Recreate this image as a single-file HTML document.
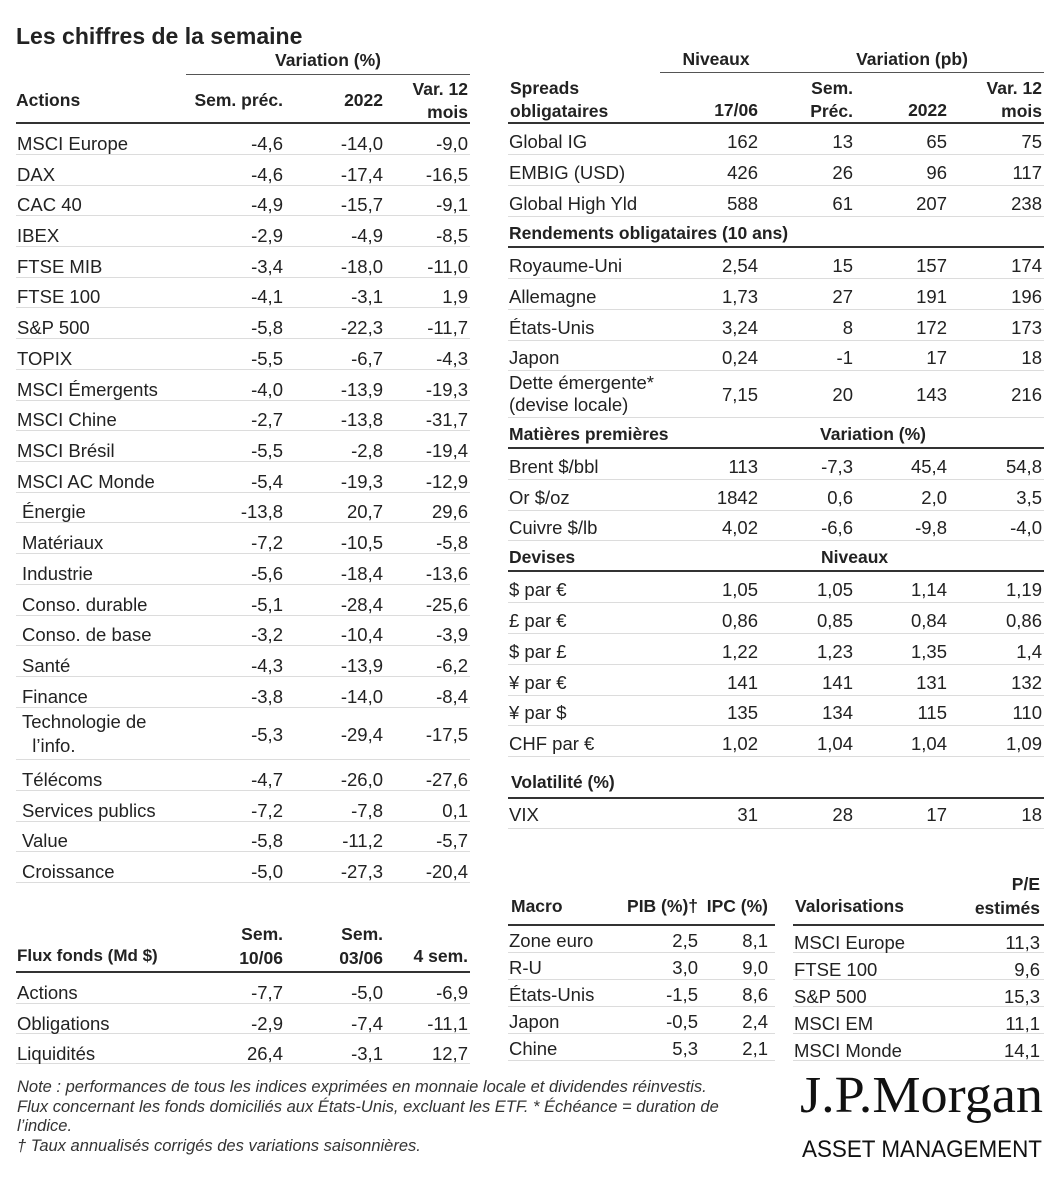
<!DOCTYPE html>
<html><head><meta charset="utf-8"><style>
*{margin:0;padding:0;box-sizing:border-box}
body{width:1064px;height:1200px;background:#fff;position:relative;overflow:hidden;font-family:"Liberation Sans",sans-serif;color:#222;font-size:18.5px}
.a{position:absolute;white-space:nowrap}
.r{position:absolute;height:31px;border-bottom:1px solid #dcdcdc}
.r span{position:absolute;top:5px;line-height:26px}
.L span{top:7px}
.L{left:16px;width:454px}
.R{left:508px;width:536px}
.n{left:1px}
.s{left:6px}
.L .c1{right:187px}.L .c2{right:87px}.L .c3{right:2px}
.R .c1{right:286px}.R .c2{right:191px}.R .c3{right:97px}.R .c4{right:2px}
.b{font-weight:bold}
.hd{font-weight:bold;font-size:17.5px}
.th{border-bottom:2px solid #333}
.M{left:508px;width:267px;height:27px}
.M span{top:3px;line-height:24px}
.M .c1{right:77px}.M .c2{right:7px}
.V{left:793px;width:251px;height:27px}
.V span{top:5px;line-height:24px}
.V .c1{right:4px}
.note{font-style:italic;font-size:16.5px;color:#333}
</style></head><body>
<div class="a b" style="left:16px;top:23px;font-size:23px">Les chiffres de la semaine</div>

<div class="a hd" style="left:186px;width:284px;top:50px;text-align:center">Variation (%)</div>
<div class="a" style="left:186px;top:74px;width:284px;border-top:1.5px solid #555"></div>
<div class="a hd" style="left:16px;top:90px">Actions</div>
<div class="a hd" style="right:781px;top:90px">Sem. préc.</div>
<div class="a hd" style="right:681px;top:90px">2022</div>
<div class="a hd" style="right:596px;top:78px;text-align:right;line-height:23px">Var. 12<br>mois</div>
<div class="a" style="left:16px;top:122px;width:454px;border-top:2px solid #333"></div>

<div class="r L" style="top:124px"><span class="n">MSCI Europe</span><span class="c1">-4,6</span><span class="c2">-14,0</span><span class="c3">-9,0</span></div>
<div class="r L" style="top:155px"><span class="n">DAX</span><span class="c1">-4,6</span><span class="c2">-17,4</span><span class="c3">-16,5</span></div>
<div class="r L" style="top:185px"><span class="n">CAC 40</span><span class="c1">-4,9</span><span class="c2">-15,7</span><span class="c3">-9,1</span></div>
<div class="r L" style="top:216px"><span class="n">IBEX</span><span class="c1">-2,9</span><span class="c2">-4,9</span><span class="c3">-8,5</span></div>
<div class="r L" style="top:247px"><span class="n">FTSE MIB</span><span class="c1">-3,4</span><span class="c2">-18,0</span><span class="c3">-11,0</span></div>
<div class="r L" style="top:277px"><span class="n">FTSE 100</span><span class="c1">-4,1</span><span class="c2">-3,1</span><span class="c3">1,9</span></div>
<div class="r L" style="top:308px"><span class="n">S&amp;P 500</span><span class="c1">-5,8</span><span class="c2">-22,3</span><span class="c3">-11,7</span></div>
<div class="r L" style="top:339px"><span class="n">TOPIX</span><span class="c1">-5,5</span><span class="c2">-6,7</span><span class="c3">-4,3</span></div>
<div class="r L" style="top:370px"><span class="n">MSCI Émergents</span><span class="c1">-4,0</span><span class="c2">-13,9</span><span class="c3">-19,3</span></div>
<div class="r L" style="top:400px"><span class="n">MSCI Chine</span><span class="c1">-2,7</span><span class="c2">-13,8</span><span class="c3">-31,7</span></div>
<div class="r L" style="top:431px"><span class="n">MSCI Brésil</span><span class="c1">-5,5</span><span class="c2">-2,8</span><span class="c3">-19,4</span></div>
<div class="r L" style="top:462px"><span class="n">MSCI AC Monde</span><span class="c1">-5,4</span><span class="c2">-19,3</span><span class="c3">-12,9</span></div>
<div class="r L" style="top:492px"><span class="s">Énergie</span><span class="c1">-13,8</span><span class="c2">20,7</span><span class="c3">29,6</span></div>
<div class="r L" style="top:523px"><span class="s">Matériaux</span><span class="c1">-7,2</span><span class="c2">-10,5</span><span class="c3">-5,8</span></div>
<div class="r L" style="top:554px"><span class="s">Industrie</span><span class="c1">-5,6</span><span class="c2">-18,4</span><span class="c3">-13,6</span></div>
<div class="r L" style="top:585px"><span class="s">Conso. durable</span><span class="c1">-5,1</span><span class="c2">-28,4</span><span class="c3">-25,6</span></div>
<div class="r L" style="top:615px"><span class="s">Conso. de base</span><span class="c1">-3,2</span><span class="c2">-10,4</span><span class="c3">-3,9</span></div>
<div class="r L" style="top:646px"><span class="s">Santé</span><span class="c1">-4,3</span><span class="c2">-13,9</span><span class="c3">-6,2</span></div>
<div class="r L" style="top:677px"><span class="s">Finance</span><span class="c1">-3,8</span><span class="c2">-14,0</span><span class="c3">-8,4</span></div>
<div class="r L" style="top:707px;height:53px"><span class="s" style="top:3px;line-height:24px">Technologie de<br>&nbsp;&nbsp;l’info.</span><span class="c1" style="top:15px">-5,3</span><span class="c2" style="top:15px">-29,4</span><span class="c3" style="top:15px">-17,5</span></div>
<div class="r L" style="top:760px"><span class="s">Télécoms</span><span class="c1">-4,7</span><span class="c2">-26,0</span><span class="c3">-27,6</span></div>
<div class="r L" style="top:791px"><span class="s">Services publics</span><span class="c1">-7,2</span><span class="c2">-7,8</span><span class="c3">0,1</span></div>
<div class="r L" style="top:821px"><span class="s">Value</span><span class="c1">-5,8</span><span class="c2">-11,2</span><span class="c3">-5,7</span></div>
<div class="r L" style="top:852px"><span class="s">Croissance</span><span class="c1">-5,0</span><span class="c2">-27,3</span><span class="c3">-20,4</span></div>

<div class="a hd" style="left:672px;width:88px;top:49px;text-align:center">Niveaux</div>
<div class="a hd" style="left:780px;width:264px;top:49px;text-align:center">Variation (pb)</div>
<div class="a" style="left:660px;top:72px;width:384px;border-top:1.5px solid #555"></div>
<div class="a hd" style="left:510px;top:77px;line-height:23px">Spreads<br>obligataires</div>
<div class="a hd" style="right:306px;top:100px">17/06</div>
<div class="a hd" style="right:211px;top:77px;line-height:23px;text-align:right">Sem.<br>Préc.</div>
<div class="a hd" style="right:117px;top:100px">2022</div>
<div class="a hd" style="right:22px;top:77px;line-height:23px;text-align:right">Var. 12<br>mois</div>
<div class="a" style="left:508px;top:122px;width:536px;border-top:2px solid #333"></div>

<div class="r R" style="top:124px"><span class="n">Global IG</span><span class="c1">162</span><span class="c2">13</span><span class="c3">65</span><span class="c4">75</span></div>
<div class="r R" style="top:155px"><span class="n">EMBIG (USD)</span><span class="c1">426</span><span class="c2">26</span><span class="c3">96</span><span class="c4">117</span></div>
<div class="r R" style="top:186px"><span class="n">Global High Yld</span><span class="c1">588</span><span class="c2">61</span><span class="c3">207</span><span class="c4">238</span></div>
<div class="r R th" style="top:217px"><span class="n hd" style="top:3px">Rendements obligataires (10 ans)</span></div>
<div class="r R" style="top:248px"><span class="n">Royaume-Uni</span><span class="c1">2,54</span><span class="c2">15</span><span class="c3">157</span><span class="c4">174</span></div>
<div class="r R" style="top:279px"><span class="n">Allemagne</span><span class="c1">1,73</span><span class="c2">27</span><span class="c3">191</span><span class="c4">196</span></div>
<div class="r R" style="top:310px"><span class="n">États-Unis</span><span class="c1">3,24</span><span class="c2">8</span><span class="c3">172</span><span class="c4">173</span></div>
<div class="r R" style="top:340px"><span class="n">Japon</span><span class="c1">0,24</span><span class="c2">-1</span><span class="c3">17</span><span class="c4">18</span></div>
<div class="r R" style="top:371px;height:47px"><span class="n" style="top:1px;line-height:22px">Dette émergente*<br>(devise locale)</span><span class="c1" style="top:11px">7,15</span><span class="c2" style="top:11px">20</span><span class="c3" style="top:11px">143</span><span class="c4" style="top:11px">216</span></div>
<div class="r R th" style="top:418px"><span class="n hd" style="top:3px">Matières premières</span><span class="hd" style="left:312px;top:3px">Variation (%)</span></div>
<div class="r R" style="top:449px"><span class="n">Brent $/bbl</span><span class="c1">113</span><span class="c2">-7,3</span><span class="c3">45,4</span><span class="c4">54,8</span></div>
<div class="r R" style="top:480px"><span class="n">Or $/oz</span><span class="c1">1842</span><span class="c2">0,6</span><span class="c3">2,0</span><span class="c4">3,5</span></div>
<div class="r R" style="top:510px"><span class="n">Cuivre $/lb</span><span class="c1">4,02</span><span class="c2">-6,6</span><span class="c3">-9,8</span><span class="c4">-4,0</span></div>
<div class="r R th" style="top:541px"><span class="n hd" style="top:3px">Devises</span><span class="hd" style="left:313px;top:3px">Niveaux</span></div>
<div class="r R" style="top:572px"><span class="n">$ par €</span><span class="c1">1,05</span><span class="c2">1,05</span><span class="c3">1,14</span><span class="c4">1,19</span></div>
<div class="r R" style="top:603px"><span class="n">£ par €</span><span class="c1">0,86</span><span class="c2">0,85</span><span class="c3">0,84</span><span class="c4">0,86</span></div>
<div class="r R" style="top:634px"><span class="n">$ par £</span><span class="c1">1,22</span><span class="c2">1,23</span><span class="c3">1,35</span><span class="c4">1,4</span></div>
<div class="r R" style="top:665px"><span class="n">¥ par €</span><span class="c1">141</span><span class="c2">141</span><span class="c3">131</span><span class="c4">132</span></div>
<div class="r R" style="top:695px"><span class="n">¥ par $</span><span class="c1">135</span><span class="c2">134</span><span class="c3">115</span><span class="c4">110</span></div>
<div class="r R" style="top:726px"><span class="n">CHF par €</span><span class="c1">1,02</span><span class="c2">1,04</span><span class="c3">1,04</span><span class="c4">1,09</span></div>
<div class="a hd" style="left:511px;top:772px">Volatilité (%)</div>
<div class="a" style="left:508px;top:797px;width:536px;border-top:2px solid #333"></div>
<div class="r R" style="top:799px;height:30px"><span class="n" style="top:3px">VIX</span><span class="c1" style="top:3px">31</span><span class="c2" style="top:3px">28</span><span class="c3" style="top:3px">17</span><span class="c4" style="top:3px">18</span></div>

<div class="a hd" style="left:511px;top:896px">Macro</div>
<div class="a hd" style="right:366px;top:896px">PIB (%)†</div>
<div class="a hd" style="right:296px;top:896px">IPC (%)</div>
<div class="a" style="left:508px;top:924px;width:267px;border-top:2px solid #333"></div>
<div class="r M" style="top:926px"><span class="n">Zone euro</span><span class="c1">2,5</span><span class="c2">8,1</span></div>
<div class="r M" style="top:953px"><span class="n">R-U</span><span class="c1">3,0</span><span class="c2">9,0</span></div>
<div class="r M" style="top:980px"><span class="n">États-Unis</span><span class="c1">-1,5</span><span class="c2">8,6</span></div>
<div class="r M" style="top:1007px"><span class="n">Japon</span><span class="c1">-0,5</span><span class="c2">2,4</span></div>
<div class="r M" style="top:1034px"><span class="n">Chine</span><span class="c1">5,3</span><span class="c2">2,1</span></div>

<div class="a hd" style="left:795px;top:896px">Valorisations</div>
<div class="a hd" style="right:24px;top:872px;line-height:24px;text-align:right">P/E<br>estimés</div>
<div class="a" style="left:793px;top:924px;width:251px;border-top:2px solid #333"></div>
<div class="r V" style="top:926px"><span class="n">MSCI Europe</span><span class="c1">11,3</span></div>
<div class="r V" style="top:953px"><span class="n">FTSE 100</span><span class="c1">9,6</span></div>
<div class="r V" style="top:980px"><span class="n">S&amp;P 500</span><span class="c1">15,3</span></div>
<div class="r V" style="top:1007px"><span class="n">MSCI EM</span><span class="c1">11,1</span></div>
<div class="r V" style="top:1034px"><span class="n">MSCI Monde</span><span class="c1">14,1</span></div>

<div class="a hd" style="left:17px;top:946px;font-size:17px">Flux fonds (Md $)</div>
<div class="a hd" style="right:781px;top:922px;line-height:24px;text-align:right">Sem.<br>10/06</div>
<div class="a hd" style="right:681px;top:922px;line-height:24px;text-align:right">Sem.<br>03/06</div>
<div class="a hd" style="right:596px;top:946px">4 sem.</div>
<div class="a" style="left:16px;top:971px;width:454px;border-top:2px solid #333"></div>
<div class="r L" style="top:973px;height:31px"><span class="n">Actions</span><span class="c1">-7,7</span><span class="c2">-5,0</span><span class="c3">-6,9</span></div>
<div class="r L" style="top:1004px;height:30px"><span class="n">Obligations</span><span class="c1">-2,9</span><span class="c2">-7,4</span><span class="c3">-11,1</span></div>
<div class="r L" style="top:1034px;height:30px"><span class="n">Liquidités</span><span class="c1">26,4</span><span class="c2">-3,1</span><span class="c3">12,7</span></div>

<div class="a note" style="left:17px;top:1078px;line-height:19.5px">Note : performances de tous les indices exprimées en monnaie locale et dividendes réinvestis.<br>Flux concernant les fonds domiciliés aux États-Unis, excluant les ETF. * Échéance = duration de<br>l’indice.<br>† Taux annualisés corrigés des variations saisonnières.</div>

<svg class="a" style="left:790px;top:1064px" width="260" height="100">
<text x="10" y="48" font-family="Liberation Serif, serif" font-size="52" textLength="243" lengthAdjust="spacingAndGlyphs" fill="#111">J.P.Morgan</text>
<text x="12" y="93" font-family="Liberation Sans, sans-serif" font-size="24" textLength="240" lengthAdjust="spacingAndGlyphs" fill="#111">ASSET MANAGEMENT</text>
</svg>
</body></html>
